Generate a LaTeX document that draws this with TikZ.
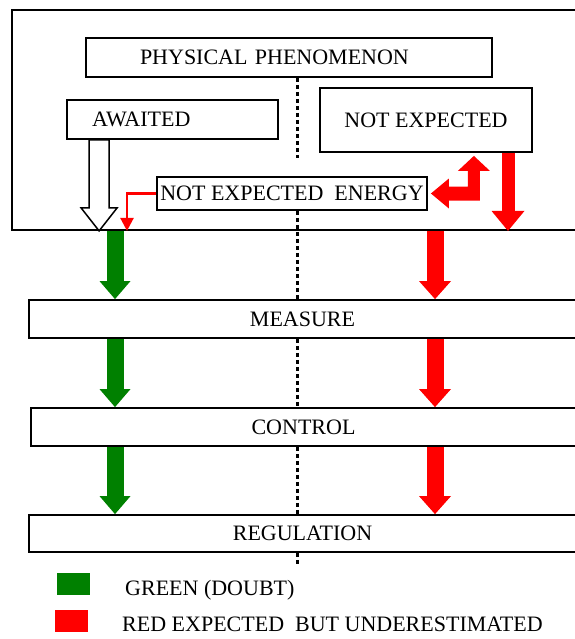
\documentclass[tikz,border=0pt]{standalone}
\usepackage{fontspec}
\setmainfont{Liberation Serif}
\usetikzlibrary{arrows.meta,calc}

\tikzset{
  box/.style={draw,line width=1.8pt,inner sep=0pt},
  greenflow/.style={draw=green!50!black,line width=17pt,
    -{Triangle[length=18pt,width=31pt,line width=0pt]}},
  redflow/.style={draw=red,line width=17pt,
    -{Triangle[length=18pt,width=32pt,line width=0pt]}},
  dots/.style={line width=3pt,dash pattern=on 4pt off 3pt},
}

\begin{document}
\begin{tikzpicture}
[x=1pt,y=-1pt,font=\fontsize{22}{26}\selectfont]
\useasboundingbox (0,0) rectangle (574,639);

% upper frame and its boxes
\node[box,minimum width=566pt,minimum height=220pt] (frame) at (295,120) {};
\node[box,minimum height=39pt,inner xsep=54pt,text width=298pt,align=left]
  (phys) at (289,57.5) {PHYSICAL PHENOMENON};
\node[box,minimum height=39pt,inner xsep=25pt,text width=161pt,align=left]
  (await) at (172.5,119.5) {AWAITED};
\node[box,minimum width=212pt,minimum height=64pt] (notexp) at (426,120) {NOT EXPECTED};
\node[box,minimum width=270pt,minimum height=33pt] (energy) at (292,193.5) {NOT EXPECTED~ ENERGY};

% chain
\node[box,minimum width=547pt,minimum height=38pt] (measure) at (302.5,319) {MEASURE};
\node[box,minimum width=545pt,minimum height=38pt] (control) at (303.5,427) {CONTROL};
\node[box,minimum width=547pt,minimum height=37pt] (regul) at (302.5,533.5) {REGULATION};

% dotted separation
\coordinate (dotend) at (297,158);
\coordinate (dotlow) at (297,566);
\draw[dots] (297,0 |- phys.south) -- (dotend);
\draw[dots] (297,0 |- energy.south) -- (297,0 |- measure.north);
\draw[dots] (297,0 |- measure.south) -- (297,0 |- control.north);
\draw[dots] (297,0 |- control.south) -- (297,0 |- regul.north);
\draw[dots] (297,0 |- regul.south) -- (dotlow);

% awaited: hollow arrow
\draw[line width=1.5pt,fill=white]
  let \p1=(await.south west), \p2=(frame.south) in
  (\x1+23pt,\y1) -- (\x1+43pt,\y1) -- (\x1+43pt,\y2+23pt) -- (\x1+51pt,\y2+23pt)
  -- (\x1+33pt,\y2) -- (\x1+15pt,\y2+23pt) -- (\x1+23pt,\y2+23pt) -- cycle;

% not expected energy
\draw[red,line width=2.5pt,-{Triangle[length=13pt,width=13pt]}]
  (energy.west) -| (127,0 |- frame.south);
\fill[red]
  let \p1=(energy.east), \p2=(notexp.south) in
  (\x1+3pt,\y1) -- (\x1+21pt,\y1+15pt) -- (\x1+21pt,\y1+7pt) -- (\x1+40pt,\y1+7pt)
  -- (\x1+40pt,\y2-18pt) -- (\x1+30pt,\y2-18pt) -- (\x1+46pt,\y2-3pt)
  -- (\x1+62pt,\y2-18pt) -- (\x1+52pt,\y2-18pt) -- (\x1+52pt,\y1-7pt)
  -- (\x1+21pt,\y1-7pt) -- (\x1+21pt,\y1-15pt) -- cycle;
\draw[redflow,line width=13pt,-{Triangle[length=20pt,width=33pt,line width=0pt]}]
  (508,0 |- notexp.south) -- (508,0 |- frame.south);

% green and red flows down the chain
\foreach \a/\b in {frame/measure,measure/control,control/regul}
{
  \draw[greenflow] (115,0 |- \a.south) -- (115,0 |- \b.north);
  \draw[redflow] (435,0 |- \a.south) -- (435,0 |- \b.north);
}

% legend
\node[fill=green!50!black,minimum width=33pt,minimum height=22pt,inner sep=0pt]
  (gkey) at (73.5,584) {};
\node[fill=red,minimum width=33pt,minimum height=22pt,inner sep=0pt]
  (rkey) at (71.5,621) {};
\node[anchor=base west,inner sep=0pt] (gtext) at (125,595) {GREEN (DOUBT)};
\node[anchor=base west,inner sep=0pt] (rtext) at (122,631) {RED EXPECTED~ BUT UNDERESTIMATED};
\end{tikzpicture}
\end{document}
